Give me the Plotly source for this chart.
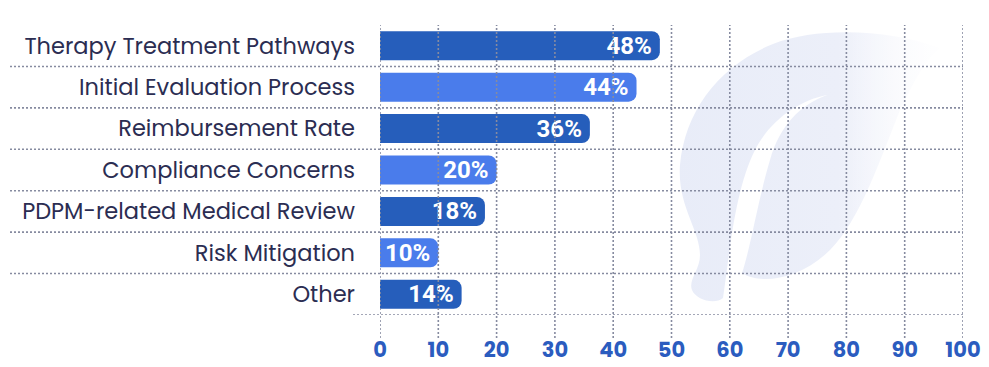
import plotly.graph_objects as go
import urllib.parse

categories = ["Therapy Treatment Pathways", "Initial Evaluation Process", "Reimbursement Rate",
              "Compliance Concerns", "PDPM-related Medical Review", "Risk Mitigation", "Other"]
values = [48, 44, 36, 20, 18, 10, 14]
labels = ["48%", "44%", "36%", "20%", "18%", "10%", "14%"]
tick_vals = [0, 10, 20, 30, 40, 50, 60, 70, 80, 90, 100]

DARK = "#265EBB"
LIGHT = "#4A7CEB"
GRID = "#868BA0"
bar_colors = [DARK if i % 2 == 0 else LIGHT for i in range(len(categories))]

W, H = 989, 367
L, R, T, B = 380, 26, 25, 52
pw, ph = W - L - R, H - T - B

def px_x(p):
    return (p - L) / pw

def px_y(p):
    return (H - B - p) / ph

fig = go.Figure(go.Bar(
    x=values, y=categories, orientation="h",
    marker=dict(color=bar_colors, cornerradius=8, line=dict(width=0)),
    width=0.7,
    text=labels, textposition="inside", insidetextanchor="end",
    textfont=dict(family="Roboto, Lato, sans-serif", size=24, color="white", weight="bold"),
    hoverinfo="skip",
))

DASH = "2px,2px"
shapes = []
for t in tick_vals:
    shapes.append(dict(type="line", xref="x", yref="paper", x0=t, x1=t,
                       y0=px_y(338), y1=1.0, layer="above",
                       line=dict(color=GRID, width=1.6, dash=DASH)))
for i in range(len(categories) - 1):
    shapes.append(dict(type="line", xref="paper", yref="y", x0=px_x(10), x1=1.0,
                       y0=i + 0.5, y1=i + 0.5, layer="above",
                       line=dict(color=GRID, width=1.6, dash=DASH)))
shapes.append(dict(type="line", xref="paper", yref="y", x0=px_x(353), x1=1.0,
                   y0=len(categories) - 0.5, y1=len(categories) - 0.5, layer="above",
                   line=dict(color=GRID, width=1.6, dash=DASH)))

leaf_svg = (
    "<svg xmlns='http://www.w3.org/2000/svg' width='989' height='367' viewBox='0 0 989 367'>"
    "<defs><linearGradient id='g' x1='670' y1='0' x2='950' y2='0' gradientUnits='userSpaceOnUse'>"
    "<stop offset='0' stop-color='#E8ECF8'/><stop offset='0.6' stop-color='#ECEFF9'/>"
    "<stop offset='1' stop-color='#FFFFFF'/></linearGradient></defs>"
    "<path fill='url(#g)' d='M 940 48 C 890 30, 820 26, 773 44 C 720 65, 685 110, 680 165 "
    "C 677 205, 700 230, 700 255 C 700 270, 688 280, 692 290 C 696 300, 715 305, 723 298 "
    "C 730 250, 735 190, 755 150 C 770 120, 800 100, 827 95 C 800 105, 780 125, 770 160 "
    "C 758 200, 750 250, 742 273 C 760 285, 800 280, 830 250 C 860 220, 880 160, 900 110 "
    "C 915 80, 925 60, 940 48 Z'/></svg>"
)
fade_svg = (
    "<svg xmlns='http://www.w3.org/2000/svg' width='989' height='367' viewBox='0 0 989 367'>"
    "<defs><linearGradient id='f' x1='840' y1='0' x2='975' y2='0' gradientUnits='userSpaceOnUse'>"
    "<stop offset='0' stop-color='#FFFFFF' stop-opacity='0'/>"
    "<stop offset='1' stop-color='#FFFFFF' stop-opacity='1'/></linearGradient></defs>"
    "<rect x='830' y='15' width='159' height='326' fill='url(#f)'/></svg>"
)

def data_uri(s):
    return "data:image/svg+xml;charset=utf-8," + urllib.parse.quote(s)

images = [
    dict(source=data_uri(leaf_svg), xref="paper", yref="paper", x=px_x(0), y=px_y(0),
         sizex=W / pw, sizey=H / ph, xanchor="left", yanchor="top", sizing="stretch", layer="below"),
    dict(source=data_uri(fade_svg), xref="paper", yref="paper", x=px_x(0), y=px_y(0),
         sizex=W / pw, sizey=H / ph, xanchor="left", yanchor="top", sizing="stretch", layer="above"),
]

fig.update_layout(
    width=W, height=H,
    margin=dict(l=L, r=R, t=T, b=B, pad=0),
    paper_bgcolor="white", plot_bgcolor="rgba(0,0,0,0)",
    showlegend=False,
    shapes=shapes,
    images=images,
    uniformtext=dict(minsize=24, mode="show"),
    xaxis=dict(range=[0, 100], tickvals=tick_vals, showgrid=False, zeroline=False,
               showline=False, ticks="", ticklabelstandoff=20, automargin=False,
               tickfont=dict(family="Poppins, Inter, Open Sans, sans-serif", size=21,
                             color="#2B5CBF", weight="bold"), fixedrange=True),
    yaxis=dict(categoryorder="array", categoryarray=categories,
               range=[len(categories) - 0.5, -0.5], showgrid=False, zeroline=False,
               showline=False, ticks="", ticklabelstandoff=24, automargin=False,
               tickfont=dict(family="Poppins, Inter, Open Sans, sans-serif", size=22.5,
                             color="#2B2D52"), fixedrange=True),
)

fig.write_html("out.html", config={"displayModeBar": False},
               post_script="document.body.style.margin='0';document.body.style.overflow='hidden';")
